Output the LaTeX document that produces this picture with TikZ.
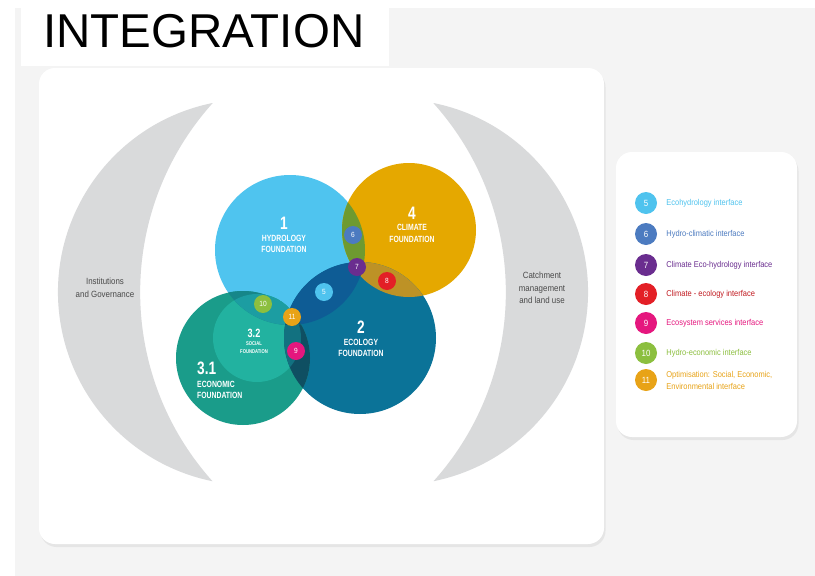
\documentclass[tikz,border=0pt]{standalone}
\usepackage{fontspec}
\setmainfont{Liberation Sans}
\newfontfamily\condfont[FakeStretch=0.76]{Liberation Sans}
\newfontfamily\narrowfont[FakeStretch=0.88]{Liberation Sans}
\usetikzlibrary{positioning}
\usetikzlibrary{shadows}

\definecolor{bggray}{HTML}{F4F4F4}
\definecolor{crescentgray}{HTML}{D9DADB}
\definecolor{sidegray}{HTML}{4A4A4A}
\definecolor{hydroblue}{HTML}{4FC4EF}
\definecolor{climategold}{HTML}{E5A800}
\definecolor{ecoblue}{HTML}{0B7398}
\definecolor{econteal}{HTML}{1A9C8A}
\definecolor{socialteal}{HTML}{22B2A0}
\definecolor{hcolive}{HTML}{6E9A30}
\definecolor{cegold}{HTML}{BD9226}
\definecolor{heblue}{HTML}{0E5C95}
\definecolor{hcedark}{HTML}{3B5E4A}
\definecolor{xhteal}{HTML}{168689}
\definecolor{shteal}{HTML}{1C9DA2}
\definecolor{xedark}{HTML}{0F4F62}
\definecolor{sedark}{HTML}{127180}
\definecolor{xhedark}{HTML}{0E5575}
\definecolor{c5}{HTML}{4FC3EE}
\definecolor{c6}{HTML}{4C7BC0}
\definecolor{c7}{HTML}{6A2D8F}
\definecolor{c8}{HTML}{E31F26}
\definecolor{c9}{HTML}{E5177E}
\definecolor{c10}{HTML}{8CBF3F}
\definecolor{c11}{HTML}{E8A317}

\tikzstyle{panel} = [fill=white, rounded corners=16pt, drop shadow={opacity=0.12, shadow xshift=1.5pt, shadow yshift=-3pt}]
\tikzstyle{crescent} = [fill=crescentgray]
\tikzstyle{sidetext} = [align=center, inner sep=0pt, text=sidegray, font=\narrowfont\fontsize{9}{12.5}\selectfont]
\tikzstyle{bignum} = [inner sep=0pt, text=white, font=\condfont\bfseries\fontsize{18}{18}\selectfont]
\tikzstyle{capname} = [align=center, inner sep=0pt, text=white, font=\condfont\bfseries\fontsize{9}{11.5}\selectfont]
\tikzstyle{badge} = [circle, minimum size=18pt, inner sep=0pt, text=white, font=\narrowfont\fontsize{7.5}{7.5}\selectfont]
\tikzstyle{legbadge} = [circle, minimum size=22pt, inner sep=0pt, text=white, font=\narrowfont\fontsize{9}{9}\selectfont]
\tikzstyle{legtext} = [align=left, inner sep=0pt, font=\narrowfont\fontsize{8.5}{12}\selectfont]

\begin{document}
\begin{tikzpicture}[x=1pt, y=-1pt]
    \useasboundingbox (0,0) rectangle (815,576);
    \fill[white] (0,0) rectangle (815,576);
    \fill[bggray] (15,8) rectangle (815,576);
    \fill[white] (21,7) rectangle (389,66);
    \node[anchor=base west, inner sep=0pt, font=\fontsize{47.5}{47.5}\selectfont] (title) at (43,47) {INTEGRATION};

    % panels
    \path[panel] (39,68) rectangle (604,544);
    \path[panel] (616,152) rectangle (797,437);

    % side crescents
    \fill[crescent] (212.5,103) arc [start angle=258.5, end angle=101.5, radius=193]
        arc [start angle=138.1, end angle=221.9, radius=283] -- cycle;
    \fill[crescent] (433.5,103) arc [start angle=-78.5, end angle=78.5, radius=193]
        arc [start angle=41.9, end angle=-41.9, radius=283] -- cycle;
    \node[sidetext] (inst) at (105,288) {Institutions\\and Governance};
    \node[sidetext] (catch) at (542,288) {Catchment\\management\\and land use};

    % foundations
    \coordinate (hydroc) at (290,250);
    \coordinate (climatec) at (409,230);
    \coordinate (ecoc) at (360,338);
    \coordinate (econc) at (243,358);
    \coordinate (socialc) at (257,338);
    \fill[hydroblue] (hydroc) circle [radius=75];
    \fill[climategold] (climatec) circle [radius=67];
    \fill[ecoblue] (ecoc) circle [radius=76];
    \fill[econteal] (econc) circle [radius=67];
    \fill[socialteal] (socialc) circle [radius=44];

    % overlaps
    \begin{scope}
        \clip (climatec) circle [radius=67];
        \fill[cegold] (ecoc) circle [radius=76];
    \end{scope}
    \begin{scope}
        \clip (econc) circle [radius=67];
        \fill[xedark] (ecoc) circle [radius=76];
    \end{scope}
    \begin{scope}
        \clip (socialc) circle [radius=44];
        \fill[sedark] (ecoc) circle [radius=76];
    \end{scope}
    \begin{scope}
        \clip (hydroc) circle [radius=75];
        \fill[hcolive] (climatec) circle [radius=67];
        \fill[heblue] (ecoc) circle [radius=76];
        \fill[xhteal] (econc) circle [radius=67];
        \begin{scope}
            \clip (socialc) circle [radius=44];
            \fill[shteal] (socialc) circle [radius=44];
        \end{scope}
        \begin{scope}
            \clip (ecoc) circle [radius=76];
            \fill[hcedark] (climatec) circle [radius=67];
            \fill[xhedark] (econc) circle [radius=67];
        \end{scope}
    \end{scope}

    % foundation labels
    \node[bignum] (n1) at (284,223) {1};
    \node[capname, below=5.5pt of n1] (hydrolabel) {HYDROLOGY\\FOUNDATION};
    \node[bignum] (n4) at (412,213) {4};
    \node[capname, below=5pt of n4] (climatelabel) {CLIMATE\\FOUNDATION};
    \node[bignum] (n2) at (361,327) {2};
    \node[capname, below=5.5pt of n2] (ecolabel) {ECOLOGY\\FOUNDATION};
    \node[bignum, font=\condfont\bfseries\fontsize{12}{12}\selectfont] (n32) at (254,333) {3.2};
    \node[capname, below=4pt of n32, font=\condfont\bfseries\fontsize{5.5}{8}\selectfont] (sociallabel) {SOCIAL\\FOUNDATION};
    \node[bignum, anchor=west] (n31) at (197,368) {3.1};
    \node[capname, align=left, below=6pt of n31.south west, anchor=north west] (econlabel) {ECONOMIC\\FOUNDATION};

    % interface badges
    \node[badge, fill=c5] (i5) at (324,292) {5};
    \node[badge, fill=c6] (i6) at (353,235) {6};
    \node[badge, fill=c7] (i7) at (357,267) {7};
    \node[badge, fill=c8] (i8) at (387,281) {8};
    \node[badge, fill=c9] (i9) at (296,351) {9};
    \node[badge, fill=c10] (i10) at (263,304) {10};
    \node[badge, fill=c11] (i11) at (292,317) {11};

    % legend
    \node[legbadge, fill=c5] (l5) at (646,203) {5};
    \node[legtext, text=c5, right=9pt of l5] (t5) {Ecohydrology interface};
    \node[legbadge, fill=c6] (l6) at (646,234) {6};
    \node[legtext, text=c6, right=9pt of l6] (t6) {Hydro-climatic interface};
    \node[legbadge, fill=c7] (l7) at (646,265) {7};
    \node[legtext, text=c7, right=9pt of l7] (t7) {Climate Eco-hydrology interface};
    \node[legbadge, fill=c8] (l8) at (646,294) {8};
    \node[legtext, text=c8!85!black, right=9pt of l8] (t8) {Climate - ecology interface};
    \node[legbadge, fill=c9] (l9) at (646,323) {9};
    \node[legtext, text=c9, right=9pt of l9] (t9) {Ecosystem services interface};
    \node[legbadge, fill=c10] (l10) at (646,353) {10};
    \node[legtext, text=c10, right=9pt of l10] (t10) {Hydro-economic interface};
    \node[legbadge, fill=c11] (l11) at (646,380) {11};
    \node[legtext, text=c11, right=9pt of l11] (t11) {Optimisation: Social, Economic,\\Environmental interface};
\end{tikzpicture}
\end{document}
